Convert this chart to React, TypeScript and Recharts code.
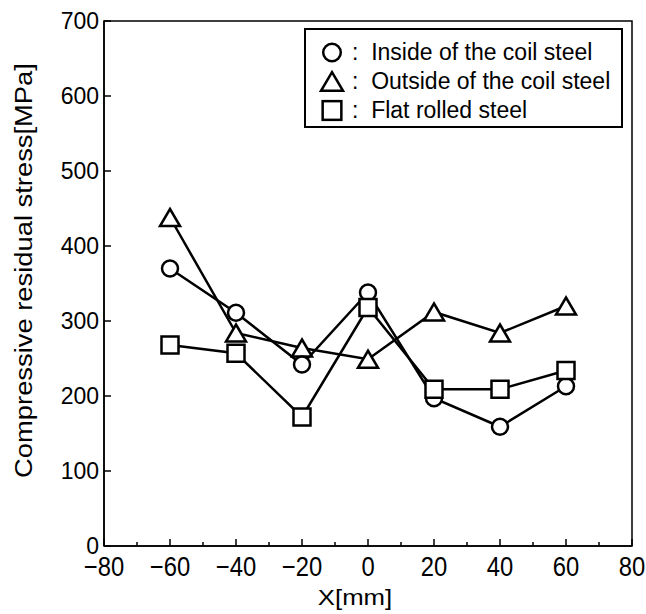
import type { FC } from 'react';
import {
  LineChart,
  Line,
  XAxis,
  YAxis,
  Legend,
  ReferenceArea,
} from 'recharts';

const xPositions = [-60, -40, -20, 0, 20, 40, 60];
const insideCoil = [370, 311, 242, 338, 197, 159, 213];
const outsideCoil = [438, 284, 264, 249, 312, 284, 320];
const flatRolled = [268, 257, 172, 318, 209, 209, 234];
const xTicks = [-80, -70, -60, -50, -40, -30, -20, -10, 0, 10, 20, 30, 40, 50, 60, 70, 80];
const yTicks = [0, 100, 200, 300, 400, 500, 600, 700];

const legendItems = [
  { key: 'circle', label: 'Inside of the coil steel' },
  { key: 'triangle', label: 'Outside of the coil steel' },
  { key: 'square', label: 'Flat rolled steel' },
];

const data = xPositions.map((x, i) => ({
  x,
  inside: insideCoil[i],
  outside: outsideCoil[i],
  flat: flatRolled[i],
}));

const FONT = "'Liberation Sans', Arial, sans-serif";
const X_GAP = 10;
const Y_GAP = 5;

const fmt = (v: number) => (v < 0 ? `\u2212${-v}` : `${v}`);

// x tick labels are taller and narrower than the y ones in the original
const XTick: FC<any> = ({ x, y, payload }) => {
  const v = payload.value as number;
  const major = v % 20 === 0;
  const axisY = y - X_GAP;
  return (
    <g>
      <line x1={x} x2={x} y1={axisY} y2={axisY - (major ? 7 : 4)} stroke="#000" strokeWidth={1.5} />
      {major && (
        <text
          transform={`translate(${x}, ${axisY + 30}) scale(0.85, 1)`}
          textAnchor="middle"
          fontFamily={FONT}
          fontSize={28}
          fill="#000"
        >
          {fmt(v)}
        </text>
      )}
    </g>
  );
};

const YTick: FC<any> = ({ x, y, payload }) => {
  const axisX = x + Y_GAP;
  return (
    <g>
      <line x1={axisX} x2={axisX + 7} y1={y} y2={y} stroke="#000" strokeWidth={1.5} />
      <text x={x} y={y + 8} textAnchor="end" fontFamily={FONT} fontSize={23} fill="#000">
        {payload.value}
      </text>
    </g>
  );
};

const Marker: FC<{ kind: string; cx: number; cy: number; size?: number }> = ({ kind, cx, cy, size = 1 }) => {
  if (kind === 'circle') {
    return <circle cx={cx} cy={cy} r={8 * size} fill="#fff" stroke="#000" strokeWidth={2.5} />;
  }
  if (kind === 'triangle') {
    const w = 10 * size;
    const h = 17 * size;
    return (
      <path
        d={`M${cx},${cy - h / 2} L${cx + w},${cy + h / 2} L${cx - w},${cy + h / 2} Z`}
        fill="#fff"
        stroke="#000"
        strokeWidth={2.5}
      />
    );
  }
  const s = 8.5 * size;
  return <rect x={cx - s} y={cy - s} width={2 * s} height={2 * s} fill="#fff" stroke="#000" strokeWidth={2.5} />;
};

const dotFor = (kind: string) => (props: any) => (
  <Marker key={`${kind}-${props.index}`} kind={kind} cx={props.cx} cy={props.cy} />
);

const LegendBox: FC = () => (
  <div
    style={{
      width: '100%',
      height: '100%',
      boxSizing: 'border-box',
      border: '2px solid #000',
      background: '#fff',
      fontFamily: FONT,
      fontSize: 23,
      paddingTop: 8,
    }}
  >
    {legendItems.map((item) => (
      <div key={item.key} style={{ display: 'flex', alignItems: 'center', height: 29, lineHeight: '29px' }}>
        <svg width={46} height={29} style={{ flex: 'none' }}>
          <Marker kind={item.key} cx={26} cy={14.5} size={1.1} />
        </svg>
        <span style={{ whiteSpace: 'nowrap' }}>:&nbsp;&nbsp;{item.label}</span>
      </div>
    ))}
  </div>
);

export default function App() {
  return (
    <div style={{ position: 'absolute', left: 0, top: 0, background: '#fff' }}>
      <LineChart width={646} height={614} data={data} margin={{ top: 21, right: 14, bottom: 0, left: 0 }}>
        <XAxis
          dataKey="x"
          type="number"
          domain={[-80, 80]}
          ticks={xTicks}
          interval={0}
          tickLine={false}
          tickSize={0}
          tickMargin={X_GAP}
          tick={<XTick />}
          height={68}
          axisLine={{ stroke: '#000', strokeWidth: 1.5 }}
          label={(p: any) => {
            const vb = p.viewBox;
            const cx = vb.x + vb.width / 2 - 13;
            return (
              <text
                transform={`translate(${cx}, ${vb.y + 59}) scale(1.12, 1)`}
                textAnchor="middle"
                fontFamily={FONT}
                fontSize={23}
                fill="#000"
              >
                X[mm]
              </text>
            );
          }}
        />
        <YAxis
          type="number"
          domain={[0, 700]}
          ticks={yTicks}
          interval={0}
          tickLine={false}
          tickSize={0}
          tickMargin={Y_GAP}
          tick={<YTick />}
          width={104}
          axisLine={{ stroke: '#000', strokeWidth: 1.5 }}
          label={(p: any) => {
            const vb = p.viewBox;
            const cx = 32;
            const cy = vb.y + vb.height / 2 - 13;
            return (
              <text
                transform={`translate(${cx}, ${cy}) rotate(-90) scale(1.14, 1)`}
                textAnchor="middle"
                fontFamily={FONT}
                fontSize={24}
                fill="#000"
              >
                Compressive residual stress[MPa]
              </text>
            );
          }}
        />
        <ReferenceArea x1={-80} x2={80} y1={0} y2={700} fill="none" stroke="#000" strokeWidth={1.5} ifOverflow="visible" />
        <Line
          dataKey="outside"
          stroke="#000"
          strokeWidth={2.5}
          dot={dotFor('triangle')}
          activeDot={false}
          isAnimationActive={false}
        />
        <Line
          dataKey="inside"
          stroke="#000"
          strokeWidth={2.5}
          dot={dotFor('circle')}
          activeDot={false}
          isAnimationActive={false}
        />
        <Line
          dataKey="flat"
          stroke="#000"
          strokeWidth={2.5}
          dot={dotFor('square')}
          activeDot={false}
          isAnimationActive={false}
        />
        <Legend
          layout="vertical"
          align="center"
          verticalAlign="middle"
          content={<LegendBox />}
          wrapperStyle={{ left: 304, top: 28, width: 319, height: 100 }}
        />
      </LineChart>
    </div>
  );
}
